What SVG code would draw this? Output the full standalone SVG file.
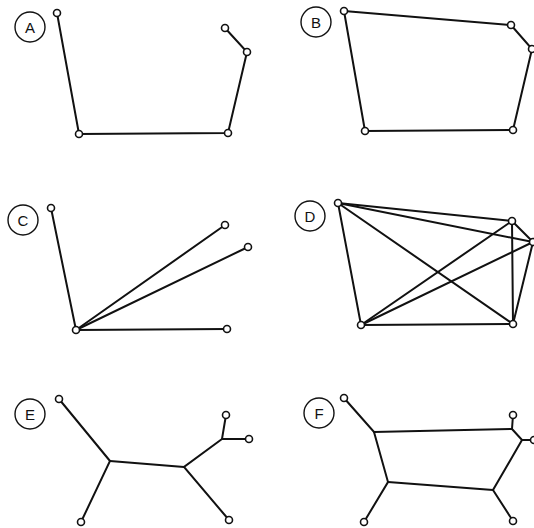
<svg xmlns="http://www.w3.org/2000/svg" width="534" height="528" viewBox="0 0 534 528">
<style>
.e{stroke:#111;stroke-width:2;fill:none;stroke-linecap:round}
.n{fill:#fff;stroke:#111;stroke-width:1.6}
.lc{fill:#fff;stroke:#111;stroke-width:1.4}
.lt{font-family:"Liberation Sans",Arial,sans-serif;font-size:15px;fill:#111;text-anchor:middle}
</style>
<rect width="534" height="528" fill="#fff"/>
<g id="connectors">
<!-- A -->
<polyline class="e" points="57,13 79,134 228,133 247,52 225,28"/>
<!-- B -->
<polygon class="e" points="344,11 511,25 532,49 513,130 365,131"/>
<!-- C -->
<line class="e" x1="76" y1="330" x2="51" y2="208"/>
<line class="e" x1="76" y1="330" x2="225" y2="225"/>
<line class="e" x1="76" y1="330" x2="248" y2="247"/>
<line class="e" x1="76" y1="330" x2="227" y2="329"/>
<!-- D -->
<line class="e" x1="338" y1="203" x2="512" y2="221"/>
<line class="e" x1="338" y1="203" x2="533" y2="242"/>
<line class="e" x1="338" y1="203" x2="513" y2="324"/>
<line class="e" x1="338" y1="203" x2="361" y2="325"/>
<line class="e" x1="512" y1="221" x2="533" y2="242"/>
<line class="e" x1="512" y1="221" x2="513" y2="324"/>
<line class="e" x1="512" y1="221" x2="361" y2="325"/>
<line class="e" x1="533" y1="242" x2="513" y2="324"/>
<line class="e" x1="533" y1="242" x2="361" y2="325"/>
<line class="e" x1="513" y1="324" x2="361" y2="325"/>
<!-- E -->
<polyline class="e" points="59,399 110,461 81,522"/>
<line class="e" x1="110" y1="461" x2="184" y2="467"/>
<polyline class="e" points="229,520 184,467 222,439 226,415"/>
<line class="e" x1="222" y1="439" x2="249" y2="439"/>
<!-- F -->
<polyline class="e" points="344,398 374,432 512,429 513,415"/>
<polyline class="e" points="512,429 522,440 533,440"/>
<polyline class="e" points="522,440 493,490 513,521"/>
<polyline class="e" points="374,432 388,482 364,522"/>
<line class="e" x1="388" y1="482" x2="493" y2="490"/>
</g>
<g id="panelA">
<circle class="lc" cx="30" cy="27" r="15"/><text class="lt" x="30" y="32.5">A</text>
<circle class="n" cx="57" cy="13" r="3.5"/>
<circle class="n" cx="79" cy="134" r="3.5"/>
<circle class="n" cx="228" cy="133" r="3.5"/>
<circle class="n" cx="247" cy="52" r="3.5"/>
<circle class="n" cx="225" cy="28" r="3.5"/>
</g>
<g id="panelB">
<circle class="lc" cx="316" cy="22" r="15"/><text class="lt" x="316" y="27.5">B</text>
<circle class="n" cx="344" cy="11" r="3.5"/>
<circle class="n" cx="511" cy="25" r="3.5"/>
<circle class="n" cx="532" cy="49" r="3.5"/>
<circle class="n" cx="513" cy="130" r="3.5"/>
<circle class="n" cx="365" cy="131" r="3.5"/>
</g>
<g id="panelC">
<circle class="lc" cx="23" cy="220" r="15"/><text class="lt" x="23" y="225.5">C</text>
<circle class="n" cx="51" cy="208" r="3.5"/>
<circle class="n" cx="76" cy="330" r="3.5"/>
<circle class="n" cx="225" cy="225" r="3.5"/>
<circle class="n" cx="248" cy="247" r="3.5"/>
<circle class="n" cx="227" cy="329" r="3.5"/>
</g>
<g id="panelD">
<circle class="lc" cx="310" cy="216" r="15"/><text class="lt" x="310" y="221.5">D</text>
<circle class="n" cx="338" cy="203" r="3.5"/>
<circle class="n" cx="512" cy="221" r="3.5"/>
<circle class="n" cx="533" cy="242" r="3.5"/>
<circle class="n" cx="513" cy="324" r="3.5"/>
<circle class="n" cx="361" cy="325" r="3.5"/>
</g>
<g id="panelE">
<circle class="lc" cx="30" cy="414" r="15"/><text class="lt" x="30" y="419.5">E</text>
<circle class="n" cx="59" cy="399" r="3.5"/>
<circle class="n" cx="81" cy="522" r="3.5"/>
<circle class="n" cx="229" cy="520" r="3.5"/>
<circle class="n" cx="226" cy="415" r="3.5"/>
<circle class="n" cx="249" cy="439" r="3.5"/>
</g>
<g id="panelF">
<circle class="lc" cx="319" cy="413" r="15"/><text class="lt" x="319" y="418.5">F</text>
<circle class="n" cx="344" cy="398" r="3.5"/>
<circle class="n" cx="364" cy="522" r="3.5"/>
<circle class="n" cx="513" cy="521" r="3.5"/>
<circle class="n" cx="513" cy="415" r="3.5"/>
<circle class="n" cx="534" cy="440" r="3.5"/>
</g>
</svg>
